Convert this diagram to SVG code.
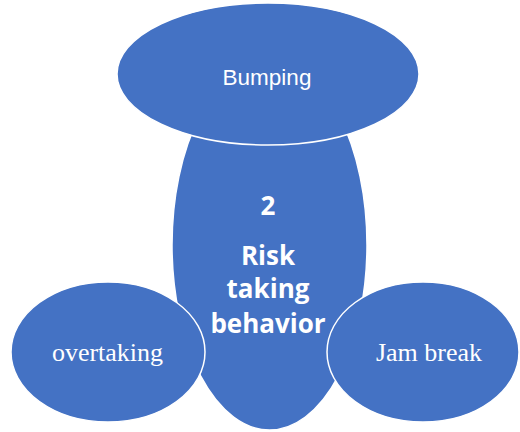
<svg xmlns="http://www.w3.org/2000/svg" width="520" height="432" viewBox="0 0 520 432">
  <style>
    .shape { fill: #4472C4; stroke: #FFFFFF; stroke-width: 1.5; }
    .sans { font-family: "Liberation Sans", Arial, sans-serif; fill: #FFFFFF; text-anchor: middle; }
    .bold { font-family: "Open Sans", "Liberation Sans", sans-serif; font-weight: bold; fill: #FFFFFF; text-anchor: middle; font-size: 26px; }
    .serif { font-family: "Liberation Serif", "Times New Roman", serif; fill: #FFFFFF; text-anchor: middle; font-size: 26px; }
  </style>
  <rect width="520" height="432" fill="#FFFFFF"/>
  <g id="connectors"></g>
  <g id="node-center">
    <ellipse class="shape" cx="269.5" cy="245" rx="97.5" ry="185"/>
  </g>
  <g id="node-bumping">
    <ellipse class="shape" cx="268" cy="74" rx="151" ry="71"/>
    <text class="sans" x="267" y="85" font-size="22.5">Bumping</text>
  </g>
  <g id="node-overtaking">
    <ellipse class="shape" cx="108" cy="352" rx="97" ry="70"/>
    <text class="serif" x="107.5" y="361">overtaking</text>
  </g>
  <g id="node-jambreak">
    <ellipse class="shape" cx="423" cy="352" rx="96" ry="70"/>
    <text class="serif" x="429" y="361">Jam break</text>
  </g>
  <g id="node-center-label">
    <text class="bold" x="268" y="215">2</text>
    <text class="bold" x="268" y="265">Risk</text>
    <text class="bold" x="268" y="298">taking</text>
    <text class="bold" x="268" y="333">behavior</text>
  </g>
</svg>
